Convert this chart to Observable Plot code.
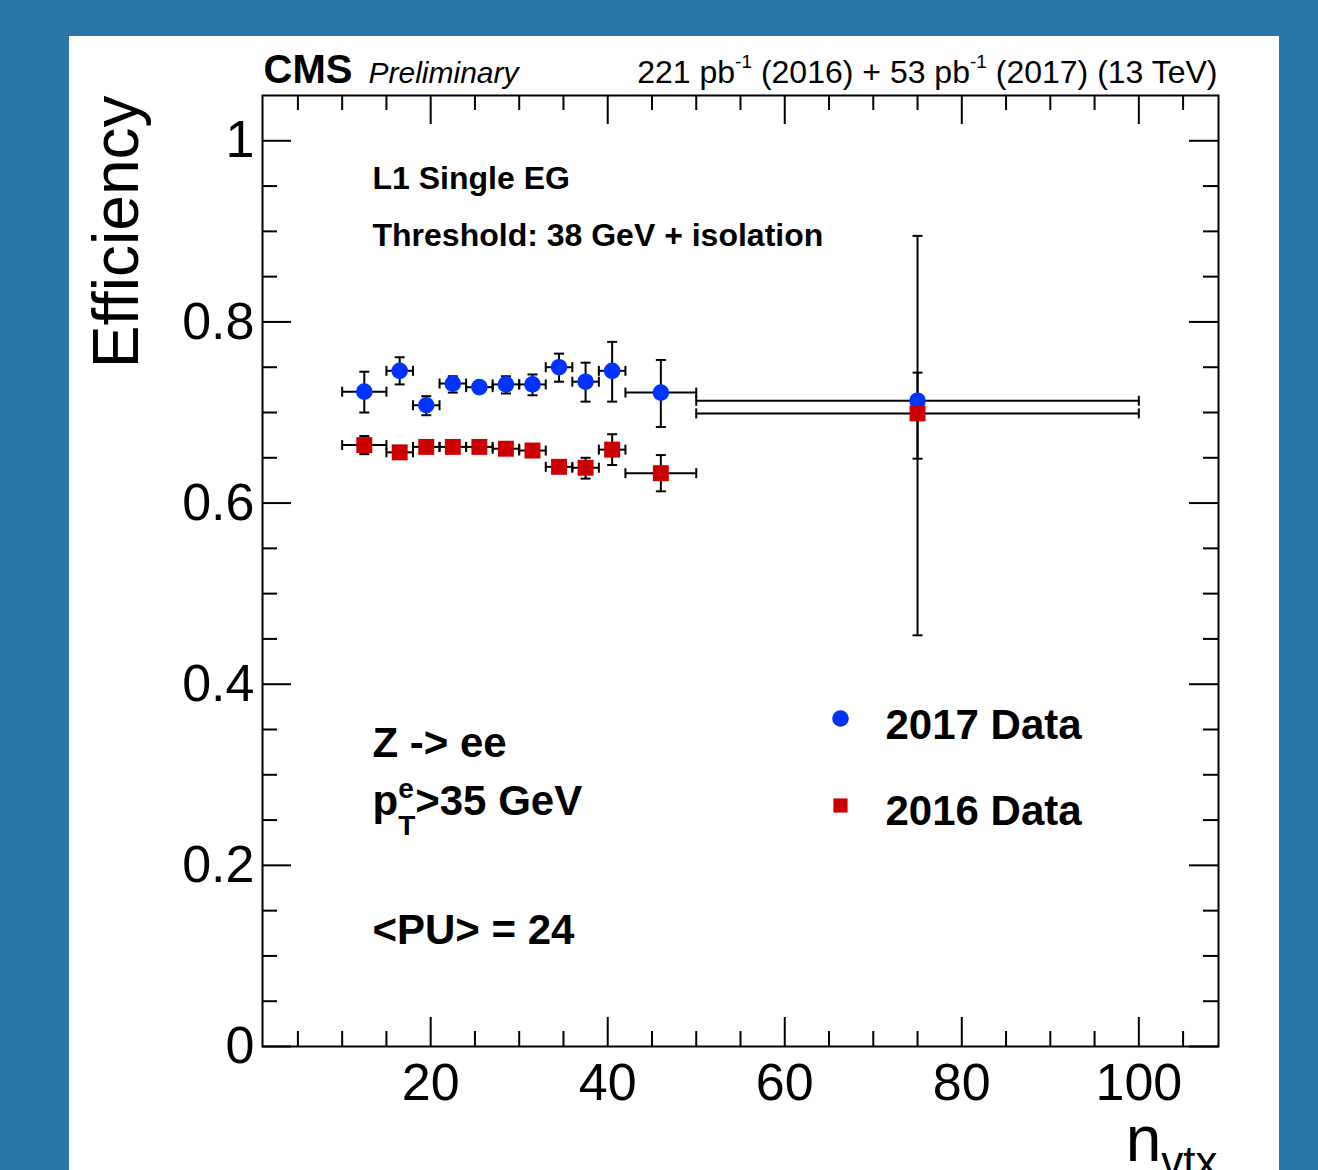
<!DOCTYPE html>
<html><head><meta charset="utf-8">
<script src="https://cdn.jsdelivr.net/npm/d3@7"></script>
<script src="https://cdn.jsdelivr.net/npm/@observablehq/plot@0.6"></script>
<style>
html,body{margin:0;padding:0;background:#2a76a6;width:1318px;height:1170px;overflow:hidden;}
#panel{position:absolute;left:69px;top:36px;width:1210px;height:1134px;background:#fff;}
#chart{position:absolute;left:0;top:0;}
</style></head>
<body><div id="panel"></div><div id="chart"></div>
<script>
// ---- data ----
const nvtxLow    = [10, 15, 18, 21, 24, 27, 30, 33, 36, 39, 42, 50];
const nvtxHigh   = [15, 18, 21, 24, 27, 30, 33, 36, 39, 42, 50, 100];
const nvtxCenter = [12.5, 16.5, 19.5, 22.5, 25.5, 28.5, 31.5, 34.5, 37.5, 40.5, 46, 75];

const eff2017     = [0.723, 0.746, 0.708, 0.732, 0.728, 0.731, 0.731, 0.750, 0.734, 0.746, 0.722, 0.713];
const eff2017Up   = [0.745, 0.761, 0.718, 0.740, 0.733, 0.740, 0.742, 0.765, 0.755, 0.778, 0.758, 0.895];
const eff2017Down = [0.700, 0.731, 0.697, 0.722, 0.723, 0.721, 0.719, 0.734, 0.712, 0.712, 0.684, 0.454];

const eff2016     = [0.664, 0.656, 0.662, 0.662, 0.662, 0.660, 0.658, 0.640, 0.639, 0.659, 0.633, 0.699];
const eff2016Up   = [0.674, 0.661, 0.667, 0.667, 0.667, 0.665, 0.663, 0.645, 0.650, 0.676, 0.653, 0.744];
const eff2016Down = [0.654, 0.651, 0.657, 0.657, 0.657, 0.655, 0.653, 0.635, 0.627, 0.642, 0.613, 0.649];

const seriesNames = ["2017 Data", "2016 Data"];
const xMajorTicks = [20, 40, 60, 80, 100];
const xMinorTicks = d3.range(5, 106, 5).filter(v => v % 20 !== 0);
const yMajorTicks = [0, 0.2, 0.4, 0.6, 0.8, 1];
const yMinorTicks = d3.range(1, 21).map(i => i * 0.05).filter(v => Math.abs(v * 5 - Math.round(v * 5)) > 1e-6);

// ---- build ----
const blue = "#0033ff", red = "#cc0000";
const W = 1318, H = 1170, mL = 262, mR = 100, mT = 95, mB = 124;
const innerW = W - mL - mR, innerH = H - mT - mB;
const font = "'Liberation Sans', Arial, Helvetica, sans-serif";

function rows(eff, up, down, series) {
  return nvtxCenter.map((x, i) => ({series, x, lo: nvtxLow[i], hi: nvtxHigh[i], y: eff[i], yUp: up[i], yDown: down[i]}));
}
const d2017 = rows(eff2017, eff2017Up, eff2017Down, seriesNames[0]);
const d2016 = rows(eff2016, eff2016Up, eff2016Down, seriesNames[1]);
const all = d2017.concat(d2016);

const vcap = {draw(ctx, size) { const r = Math.sqrt(size / Math.PI); ctx.moveTo(0, -r); ctx.lineTo(0, r); }};
const hcap = {draw(ctx, size) { const r = Math.sqrt(size / Math.PI); ctx.moveTo(-r, 0); ctx.lineTo(r, 0); }};

const majLen = 29, minLen = 15;
const tickStyle = {stroke: "black", strokeWidth: 2};

const plot = Plot.plot({
  width: W, height: H,
  marginLeft: mL, marginRight: mR, marginTop: mT, marginBottom: mB,
  x: {domain: [1, 109]},
  y: {domain: [0, 1.05]},
  style: {background: "transparent", fontFamily: font, overflow: "visible", color: "black"},
  marks: [
    // inward ticks on all four sides
    Plot.ruleX(xMajorTicks, {x: d => d, insetTop: innerH - majLen, ...tickStyle}),
    Plot.ruleX(xMinorTicks, {x: d => d, insetTop: innerH - minLen, ...tickStyle}),
    Plot.ruleX(xMajorTicks, {x: d => d, insetBottom: innerH - majLen, ...tickStyle}),
    Plot.ruleX(xMinorTicks, {x: d => d, insetBottom: innerH - minLen, ...tickStyle}),
    Plot.ruleY(yMajorTicks, {y: d => d, insetRight: innerW - majLen, ...tickStyle}),
    Plot.ruleY(yMinorTicks, {y: d => d, insetRight: innerW - minLen, ...tickStyle}),
    Plot.ruleY(yMajorTicks, {y: d => d, insetLeft: innerW - majLen, ...tickStyle}),
    Plot.ruleY(yMinorTicks, {y: d => d, insetLeft: innerW - minLen, ...tickStyle}),
    Plot.axisX(xMajorTicks, {tickSize: 0, tickPadding: 17, fontSize: 52, label: null}),
    Plot.axisY(yMajorTicks, {tickSize: 0, tickPadding: 8, fontSize: 52, label: null,
      tickFormat: d => d === 0 ? "0" : d === 1 ? "1" : d.toFixed(1)}),
    Plot.frame({stroke: "black", strokeWidth: 2}),
    // error bars
    Plot.ruleY(all, {y: "y", x1: "lo", x2: "hi", stroke: "black", strokeWidth: 2}),
    Plot.ruleX(all, {x: "x", y1: "yDown", y2: "yUp", stroke: "black", strokeWidth: 2}),
    Plot.dot(all, {x: "lo", y: "y", symbol: vcap, r: 5, fill: "none", stroke: "black", strokeWidth: 2}),
    Plot.dot(all, {x: "hi", y: "y", symbol: vcap, r: 5, fill: "none", stroke: "black", strokeWidth: 2}),
    Plot.dot(all, {x: "x", y: "yUp", symbol: hcap, r: 5, fill: "none", stroke: "black", strokeWidth: 2}),
    Plot.dot(all, {x: "x", y: "yDown", symbol: hcap, r: 5, fill: "none", stroke: "black", strokeWidth: 2}),
    // markers
    Plot.dot(d2017, {x: "x", y: "y", symbol: "circle", r: 8.3, fill: blue, stroke: null}),
    Plot.dot(d2016, {x: "x", y: "y", symbol: "square", r: 9, fill: red, stroke: null}),
    // legend
    Plot.dot([seriesNames[0]], {frameAnchor: "top-left", dx: 578, dy: 623, symbol: "circle", r: 8.3, fill: blue}),
    Plot.dot([seriesNames[1]], {frameAnchor: "top-left", dx: 578, dy: 710, symbol: "square", r: 8, fill: red}),
    Plot.text([seriesNames[0]], {text: d => d, frameAnchor: "top-left", dx: 623, dy: 643, textAnchor: "start", lineAnchor: "bottom", fontSize: 42, fontWeight: "bold"}),
    Plot.text([seriesNames[1]], {text: d => d, frameAnchor: "top-left", dx: 623, dy: 729, textAnchor: "start", lineAnchor: "bottom", fontSize: 42, fontWeight: "bold"}),
    // header
    Plot.text(["CMS"], {text: d => d, frameAnchor: "top-left", dx: 1, dy: -13, textAnchor: "start", lineAnchor: "bottom", fontSize: 40, fontWeight: "bold"}),
    Plot.text(["Preliminary"], {text: d => d, frameAnchor: "top-left", dx: 106, dy: -13, textAnchor: "start", lineAnchor: "bottom", fontSize: 30, fontStyle: "italic"}),
    Plot.text(["@lumi"], {text: d => d, frameAnchor: "top-right", dx: -1, dy: -13, textAnchor: "end", lineAnchor: "bottom", fontSize: 32}),
    // in-frame annotations
    Plot.text(["L1 Single EG"], {text: d => d, frameAnchor: "top-left", dx: 110, dy: 93, textAnchor: "start", lineAnchor: "bottom", fontSize: 32, fontWeight: "bold"}),
    Plot.text(["Threshold: 38 GeV + isolation"], {text: d => d, frameAnchor: "top-left", dx: 110, dy: 150, textAnchor: "start", lineAnchor: "bottom", fontSize: 32, fontWeight: "bold"}),
    Plot.text(["Z -> ee"], {text: d => d, frameAnchor: "top-left", dx: 110, dy: 661, textAnchor: "start", lineAnchor: "bottom", fontSize: 42, fontWeight: "bold"}),
    Plot.text(["@ptcut"], {text: d => d, frameAnchor: "top-left", dx: 110, dy: 719, textAnchor: "start", lineAnchor: "bottom", fontSize: 42, fontWeight: "bold"}),
    Plot.text(["<PU> = 24"], {text: d => d, frameAnchor: "top-left", dx: 110, dy: 848, textAnchor: "start", lineAnchor: "bottom", fontSize: 42, fontWeight: "bold"}),
    // axis titles
    Plot.text(["Efficiency"], {text: d => d, frameAnchor: "top-left", dx: -125, dy: 0, rotate: -90, textAnchor: "end", lineAnchor: "bottom", fontSize: 64}),
    Plot.text(["@xtitle"], {text: d => d, frameAnchor: "bottom-right", dx: -1, dy: 114, textAnchor: "end", lineAnchor: "bottom", fontSize: 64})
  ]
});

// rich text (superscripts / subscripts)
function rich(key, parts) {
  const t = d3.select(plot).selectAll("text").filter(function() { return this.textContent === key; });
  t.text(null);
  for (const p of parts) {
    const s = t.append("tspan").text(p.t);
    if (p.size) s.attr("font-size", p.size);
    if (p.dy) s.attr("dy", p.dy);
    if (p.dx) s.attr("dx", p.dx);
  }
}
rich("@lumi", [
  {t: "221 pb"}, {t: "-1", size: 19, dy: -15}, {t: " (2016) + 53 pb", dy: 15},
  {t: "-1", size: 19, dy: -15}, {t: " (2017) (13 TeV)", dy: 15}
]);
rich("@ptcut", [
  {t: "p"}, {t: "e", size: 28, dy: -17}, {t: "T", size: 28, dy: 37, dx: -15.6}, {t: ">35 GeV", dy: -20}
]);
rich("@xtitle", [
  {t: "n"}, {t: "vtx", size: 44, dy: 16}
]);

document.getElementById("chart").appendChild(plot);
</script>
</body></html>
